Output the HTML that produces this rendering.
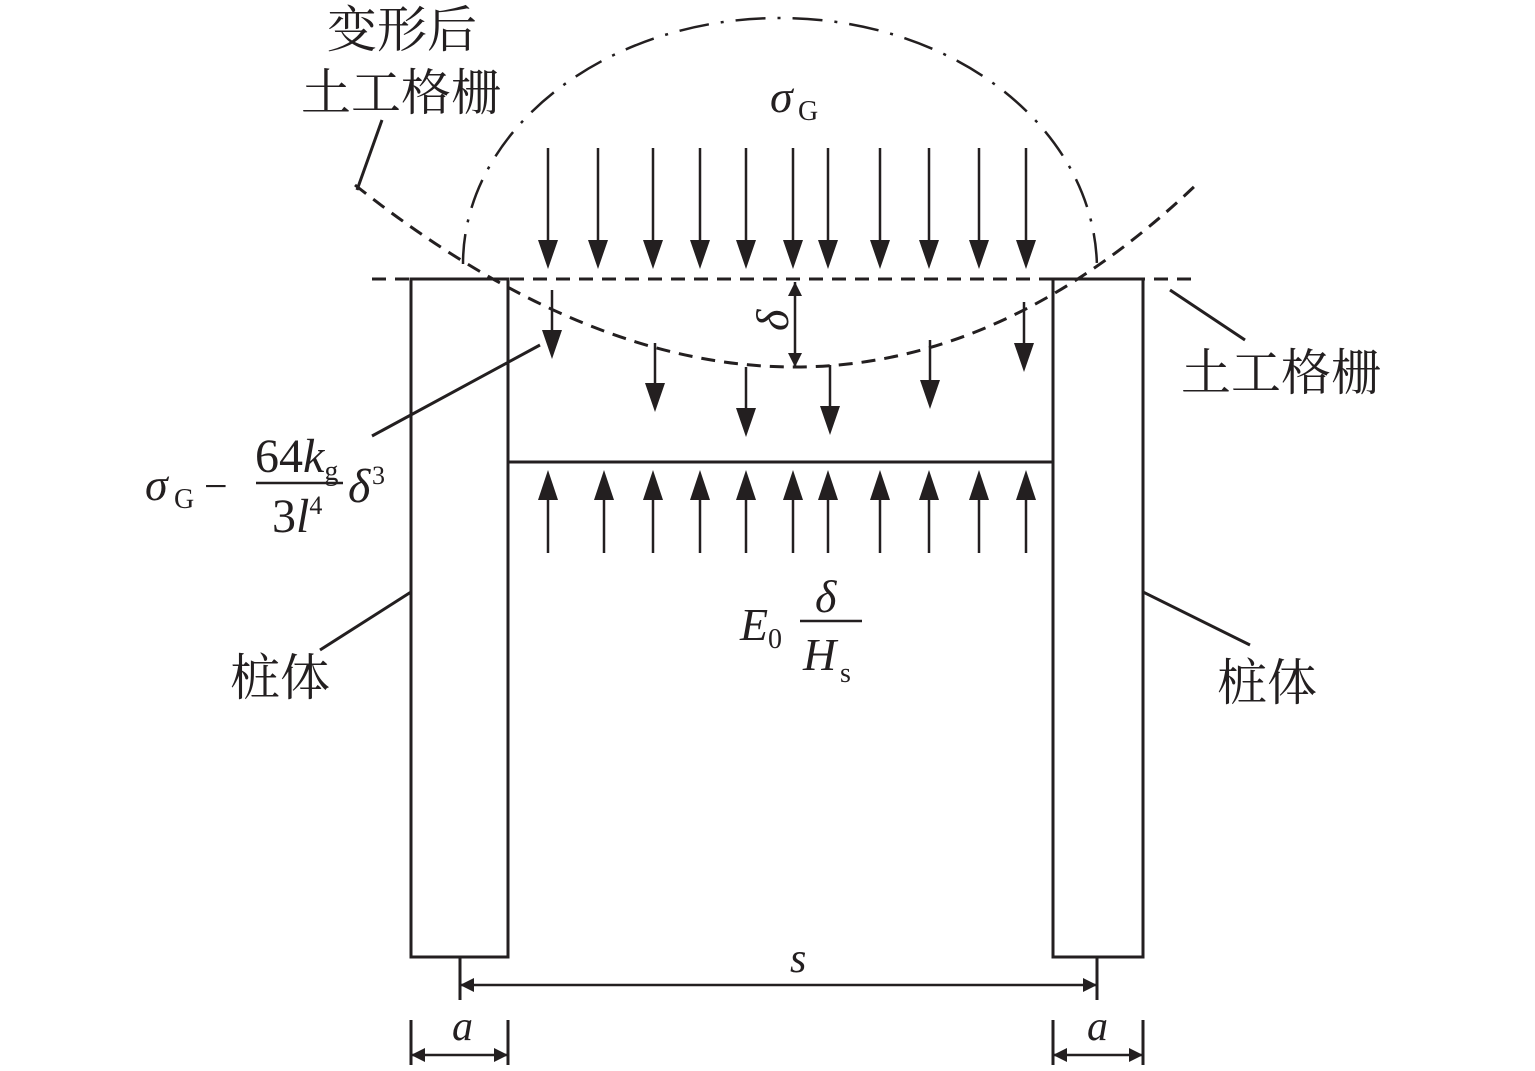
<!DOCTYPE html>
<html><head><meta charset="utf-8"><style>
html,body{margin:0;padding:0;background:#fff;}
svg{display:block;}
text{font-family:"Liberation Serif","Noto Serif CJK SC",serif;fill:#231f20;}
.cjk{font-family:"Liberation Serif","Noto Serif CJK SC","Noto Sans CJK SC",serif;font-size:50px;}
.it{font-style:italic;}
</style></head><body>
<svg width="1535" height="1071" viewBox="0 0 1535 1071" xmlns="http://www.w3.org/2000/svg">
<defs>
<marker id="ahs" viewBox="0 0 10 10" refX="10" refY="5" markerWidth="22" markerHeight="14" markerUnits="userSpaceOnUse" orient="auto-start-reverse"><path d="M0,0 L10,5 L0,10 z" fill="#231f20"/></marker>
</defs>
<g stroke="#231f20" stroke-width="3" fill="none">
<rect x="411" y="279" width="97" height="678"/>
<rect x="1053" y="279" width="90" height="678"/>
<line x1="372" y1="279" x2="1198" y2="279" stroke-dasharray="14,9"/>
<path d="M355,185 Q815,550 1198,183" stroke-dasharray="14,9"/>
<path d="M463,264 C463,130 605,18 780,18 C955,18 1097,130 1097,270" stroke-width="2.5" stroke-dasharray="30,12,3,12"/>
<line x1="357" y1="190" x2="382" y2="120"/>
<line x1="508" y1="462" x2="1053" y2="462"/>
<line x1="372" y1="436" x2="540" y2="345"/>
<line x1="1170" y1="290" x2="1245" y2="340"/>
<line x1="411" y1="592" x2="320" y2="650"/>
<line x1="1143" y1="592" x2="1250" y2="645"/>
<line x1="460" y1="957" x2="460" y2="1000"/>
<line x1="1097" y1="957" x2="1097" y2="1000"/>
<line x1="411" y1="1020" x2="411" y2="1065"/>
<line x1="508" y1="1020" x2="508" y2="1065"/>
<line x1="1053" y1="1020" x2="1053" y2="1065"/>
<line x1="1143" y1="1020" x2="1143" y2="1065"/>
</g>
<g stroke="#231f20" stroke-width="2.5" fill="#231f20">
<line x1="460" y1="985" x2="1097" y2="985" marker-start="url(#ahs)" marker-end="url(#ahs)"/>
<line x1="411" y1="1055" x2="508" y2="1055" marker-start="url(#ahs)" marker-end="url(#ahs)"/>
<line x1="1053" y1="1055" x2="1143" y2="1055" marker-start="url(#ahs)" marker-end="url(#ahs)"/>
<line x1="795" y1="282" x2="795" y2="367" marker-start="url(#ahs)" marker-end="url(#ahs)"/>
</g>
<g stroke="#231f20" stroke-width="2.5">
<line x1="548" y1="148" x2="548" y2="242"/><line x1="598" y1="148" x2="598" y2="242"/><line x1="653" y1="148" x2="653" y2="242"/><line x1="700" y1="148" x2="700" y2="242"/><line x1="746" y1="148" x2="746" y2="242"/><line x1="793" y1="148" x2="793" y2="242"/><line x1="828" y1="148" x2="828" y2="242"/><line x1="880" y1="148" x2="880" y2="242"/><line x1="929" y1="148" x2="929" y2="242"/><line x1="979" y1="148" x2="979" y2="242"/><line x1="1026" y1="148" x2="1026" y2="242"/>
<line x1="548" y1="498" x2="548" y2="553"/><line x1="604" y1="498" x2="604" y2="553"/><line x1="653" y1="498" x2="653" y2="553"/><line x1="700" y1="498" x2="700" y2="553"/><line x1="746" y1="498" x2="746" y2="553"/><line x1="793" y1="498" x2="793" y2="553"/><line x1="828" y1="498" x2="828" y2="553"/><line x1="880" y1="498" x2="880" y2="553"/><line x1="929" y1="498" x2="929" y2="553"/><line x1="979" y1="498" x2="979" y2="553"/><line x1="1026" y1="498" x2="1026" y2="553"/>
<line x1="552" y1="290" x2="552" y2="332"/><line x1="655" y1="343" x2="655" y2="385"/><line x1="746" y1="367" x2="746" y2="410"/><line x1="830" y1="365" x2="830" y2="408"/><line x1="930" y1="340" x2="930" y2="382"/><line x1="1024" y1="302" x2="1024" y2="345"/>
</g>
<g fill="#231f20">
<path d="M538,240h20l-10,29z"/><path d="M588,240h20l-10,29z"/><path d="M643,240h20l-10,29z"/><path d="M690,240h20l-10,29z"/><path d="M736,240h20l-10,29z"/><path d="M783,240h20l-10,29z"/><path d="M818,240h20l-10,29z"/><path d="M870,240h20l-10,29z"/><path d="M919,240h20l-10,29z"/><path d="M969,240h20l-10,29z"/><path d="M1016,240h20l-10,29z"/>
<path d="M538,500h20l-10,-30z"/><path d="M594,500h20l-10,-30z"/><path d="M643,500h20l-10,-30z"/><path d="M690,500h20l-10,-30z"/><path d="M736,500h20l-10,-30z"/><path d="M783,500h20l-10,-30z"/><path d="M818,500h20l-10,-30z"/><path d="M870,500h20l-10,-30z"/><path d="M919,500h20l-10,-30z"/><path d="M969,500h20l-10,-30z"/><path d="M1016,500h20l-10,-30z"/>
<path d="M542,330h20l-10,29z"/><path d="M645,383h20l-10,29z"/><path d="M736,408h20l-10,29z"/><path d="M820,406h20l-10,29z"/><path d="M920,380h20l-10,29z"/><path d="M1014,343h20l-10,29z"/>
</g>
<text class="cjk" x="327" y="47">变形后</text>
<text class="cjk" x="301" y="110">土工格栅</text>
<text class="cjk" x="1181" y="390">土工格栅</text>
<text class="cjk" x="230" y="695">桩体</text>
<text class="cjk" x="1217" y="700">桩体</text>
<text x="770" y="112" font-size="46" class="it">σ</text><text x="798" y="120" font-size="28">G</text>
<text x="778" y="338" font-size="46" class="it" transform="rotate(-90 772 322) translate(-15 0)">δ</text>
<text x="790" y="972" font-size="42" class="it">s</text>
<text x="452" y="1040" font-size="42" class="it">a</text>
<text x="1087" y="1040" font-size="42" class="it">a</text>
<text x="145" y="500" font-size="46" class="it">σ</text><text x="174" y="508" font-size="28">G</text>
<text x="204" y="500" font-size="42">−</text>
<text x="255" y="472" font-size="48">64<tspan font-style="italic">k</tspan><tspan font-size="28" dy="8">g</tspan></text>
<line x1="256" y1="483" x2="343" y2="483" stroke="#231f20" stroke-width="2.5"/>
<text x="272" y="532" font-size="48">3<tspan font-style="italic">l</tspan><tspan font-size="26" dy="-18">4</tspan></text>
<text x="348" y="502" font-size="48" class="it">δ</text><text x="372" y="484" font-size="26">3</text>
<text x="740" y="640" font-size="46" class="it">E</text><text x="768" y="648" font-size="28">0</text>
<text x="815" y="612" font-size="46" class="it">δ</text>
<line x1="800" y1="621" x2="862" y2="621" stroke="#231f20" stroke-width="2.5"/>
<text x="803" y="670" font-size="46" class="it">H</text><text x="840" y="682" font-size="28">s</text>
</svg>
</body></html>
